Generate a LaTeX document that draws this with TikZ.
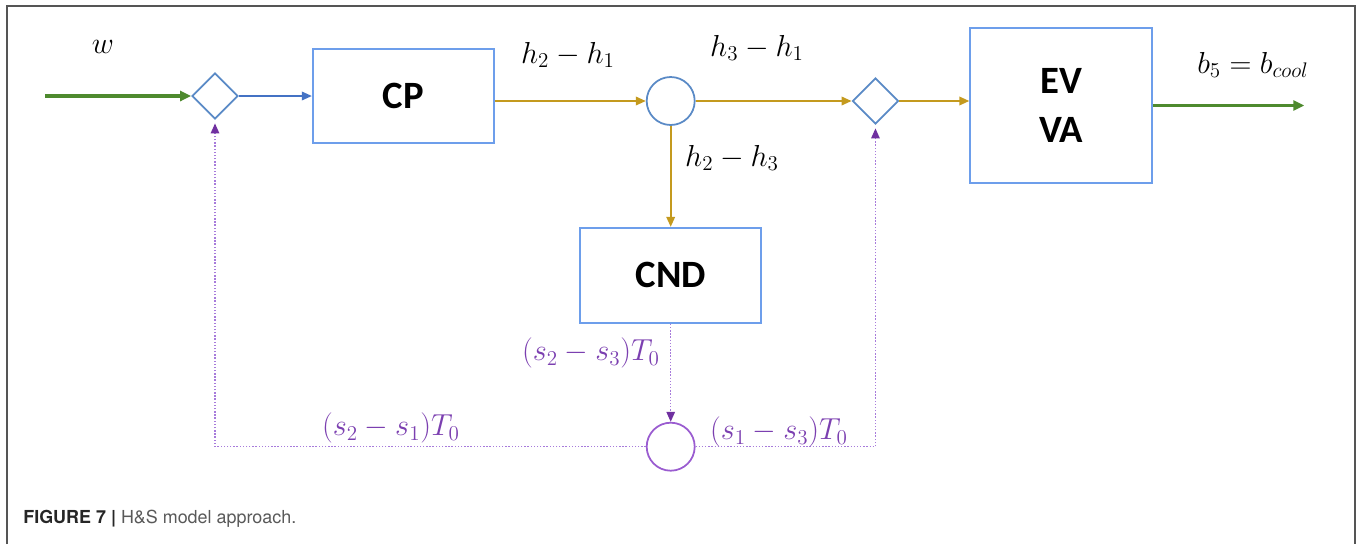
\documentclass[tikz,border=0pt]{standalone}
\usepackage{fontspec}
\setsansfont{Carlito}
\newfontfamily\capfont{TeX Gyre Heros}
\usepackage{tikz}
\usetikzlibrary{arrows.meta,positioning,shapes.geometric}
\usepackage{xcolor}
\definecolor{boxblue}{HTML}{6D9EEB}
\definecolor{diablue}{HTML}{5A8AC6}
\definecolor{arrowblue}{HTML}{4472C4}
\definecolor{flowgold}{HTML}{C49A1E}
\definecolor{flowgreen}{HTML}{4E8A2E}
\definecolor{fbpurple}{HTML}{A77BDB}
\definecolor{sumpurple}{HTML}{9A5CD0}
\definecolor{tippurple}{HTML}{7030A0}
\definecolor{labpurple}{HTML}{7B3FB0}
\definecolor{framegray}{HTML}{555555}

\begin{document}
\begin{tikzpicture}[node distance=1.5cm,>={Triangle[length=0.2cm,width=0.17cm]},
  blk/.style={draw=boxblue, line width=1.1pt, minimum width=3.62cm, minimum height=1.88cm, align=center, font=\sffamily\bfseries\fontsize{22}{28}\selectfont},
  dia/.style={diamond, draw=diablue, line width=1pt, minimum size=0.92cm, inner sep=0pt},
  sum/.style={circle, draw=diablue, line width=1pt, minimum size=0.96cm, inner sep=0pt},
  lab/.style={font=\fontsize{18.5}{20}\selectfont},
  fb/.style={fbpurple, line width=0.8pt, densely dotted, -{Triangle[length=0.2cm,width=0.17cm,color=tippurple]}}]
  \useasboundingbox (0,0) rectangle (27.2,-10.88);
  \draw[framegray, line width=1.2pt] (0.14,-10.88) -- (0.14,-0.12) -- (27.10,-0.12) -- (27.10,-10.88);

  \node (dia1) [dia] at (4.30,-1.92) {};
  \node (cp)   [blk, right=1.46cm of dia1] {CP};
  \node (j1)   [sum, right=3.02cm of cp, yshift=-0.1cm] {};
  \node (dia2) [dia, right=3.12cm of j1] {};
  \node (ev)   [blk, right=1.40cm of dia2, minimum width=3.64cm, minimum height=3.10cm, yshift=-0.09cm] {EV\\VA};
  \node (cnd)  [blk, below=2.02cm of j1, minimum height=1.90cm] {CND};
  \node (j2)   [sum, draw=sumpurple, below=1.96cm of cnd] {};
  \coordinate [left=2.92cm of dia1.west] (in);
  \coordinate [right=3.02cm of ev.east] (out);

  \draw[->, flowgreen, line width=1.8pt, >={Triangle[length=0.22cm,width=0.2cm]}] (in) -- (dia1.west);
  \draw[->, arrowblue, line width=1pt] (dia1) -- (cp);
  \draw[->, flowgold, line width=1.1pt] (cp.east |- j1) -- (j1);
  \draw[->, flowgold, line width=1.1pt] (j1) -- (dia2);
  \draw[->, flowgold, line width=1.1pt] (dia2.east) -- (dia2.east -| ev.west);
  \draw[->, flowgold, line width=1.1pt] (j1) -- (cnd);
  \draw[->, flowgreen, line width=1.8pt, >={Triangle[length=0.22cm,width=0.2cm]}] (ev.east) -- (out);
  \draw[fb] (cnd) -- (j2);
  \draw[fb, shorten >=2pt] (j2) -| (dia1);
  \draw[fb, shorten >=2pt] (j2) -| (dia2);

  \node[lab] (wlab)  at (2.06,-0.94) {$w$};
  \node[lab] (h21)   at (11.36,-1.10) {$h_2 - h_1$};
  \node[lab] (h31)   at (15.14,-0.96) {$h_3 - h_1$};
  \node[lab] (h23)   at (14.64,-3.16) {$h_2 - h_3$};
  \node[lab] (bcool) at (25.06,-1.30) {$b_5 = b_{cool}$};
  \node[lab, text=labpurple] (s23) at (11.82,-7.06) {$(s_2 - s_3)T_0$};
  \node[lab, text=labpurple] (s21) at (7.82,-8.56) {$(s_2 - s_1)T_0$};
  \node[lab, text=labpurple] (s13) at (15.58,-8.64) {$(s_1 - s_3)T_0$};

  \node[anchor=west, inner sep=0pt, text=black!65, font=\capfont\fontsize{10.2}{12}\selectfont] (cap) at (0.46,-10.38)
    {{\color{black!85}\bfseries FIGURE 7 |} H\&S model approach.};
\end{tikzpicture}
\end{document}
